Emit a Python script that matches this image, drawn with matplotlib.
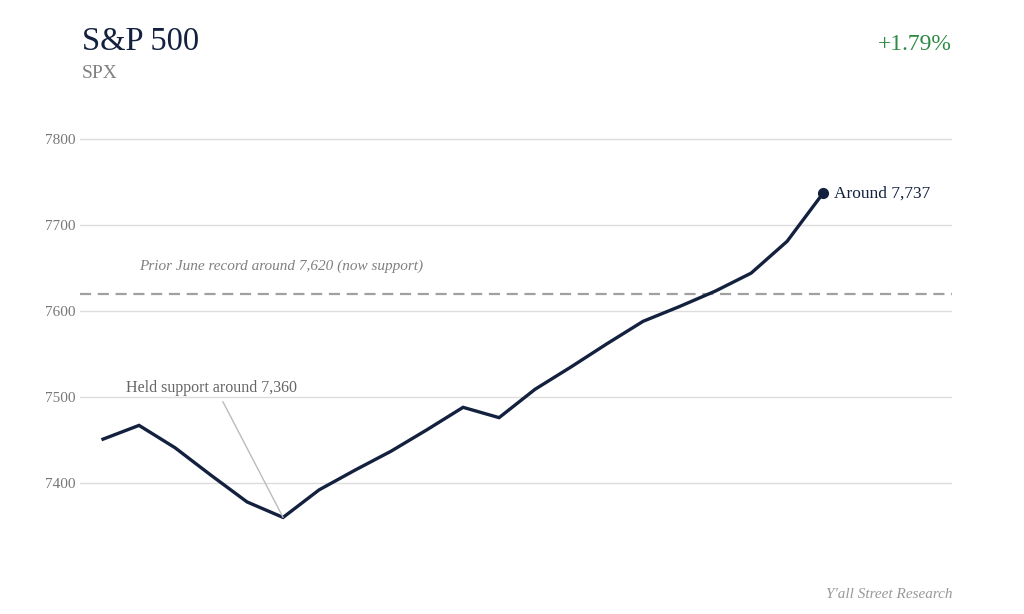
import matplotlib
matplotlib.use("Agg")
import matplotlib.pyplot as plt

# S&P 500 daily closes
days = list(range(21))
closes = [7451, 7467, 7441, 7409, 7378, 7360, 7392, 7415, 7437, 7462,
          7488, 7476, 7509, 7535, 7562, 7588, 7605, 7623, 7644, 7681, 7737]
support_level = 7620
yticks = [7400, 7500, 7600, 7700, 7800]

navy = "#13213f"
grey = "#808080"

plt.rcParams['font.family'] = ['Liberation Serif', 'DejaVu Serif']

fig = plt.figure(figsize=(10.24, 6.14), dpi=100)
ax = fig.add_axes([80 / 1024, 54 / 614, 872 / 1024, 460 / 614])

ax.plot(days, closes, color=navy, lw=2.4, solid_joinstyle='miter', zorder=3)
ax.plot(days[-1], closes[-1], 'o', color=navy, ms=7, zorder=4)
ax.axhline(support_level, color="#a0a0a0", lw=1.6, ls=(0, (5, 3)), zorder=2)

ax.set_xlim(-0.64, 23.58)
ax.set_ylim(7310.5, 7845.3)
ax.set_yticks(yticks)
ax.set_yticklabels([str(t) for t in yticks], color="#777777", fontsize=11)
ax.set_xticks([])
ax.tick_params(axis='y', length=0, pad=3)
ax.grid(axis='y', color="#dddddd", lw=1)
ax.set_axisbelow(True)
for s in ax.spines.values():
    s.set_visible(False)

# annotations
ax.text(days[-1] + 0.3, closes[-1], "Around 7,737", color=navy, fontsize=12.5,
        va='center', ha='left')
ax.text(1.0, support_level + 32, "Prior June record around 7,620 (now support)",
        color=grey, fontsize=11, style='italic', ha='left', va='center')
ax.annotate("Held support around 7,360", xy=(days[5], closes[5]),
            xytext=(0.64, 7510), color="#666666", fontsize=11.5,
            ha='left', va='center',
            arrowprops=dict(arrowstyle='-', color="#bbbbbb", lw=1,
                            relpos=(0.55, 0.0), shrinkA=2, shrinkB=0))

fig.text(82 / 1024, 1 - 42 / 614, "S&P 500", color=navy, fontsize=23.5,
         ha='left', va='center')
fig.text(82 / 1024, 1 - 73 / 614, "SPX", color=grey, fontsize=14,
         ha='left', va='center')
fig.text(952 / 1024, 1 - 45 / 614, "+1.79%", color="#2e8b46", fontsize=17,
         ha='right', va='center')
fig.text(952 / 1024, 1 - 594 / 614, "Y'all Street Research", color="#999999",
         fontsize=11, style='italic', ha='right', va='center')

fig.savefig("out.png", dpi=100)
